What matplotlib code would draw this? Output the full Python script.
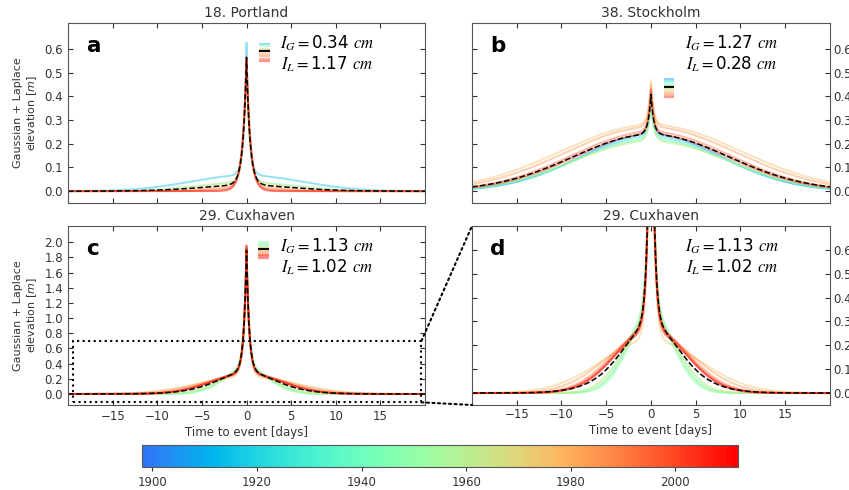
import numpy as np
import matplotlib
matplotlib.use("Agg")
import matplotlib.pyplot as plt
from matplotlib.colors import ListedColormap, Normalize
from matplotlib.cm import ScalarMappable
from matplotlib.patches import Rectangle, ConnectionPatch

plt.rcParams["mathtext.fontset"] = "stix"

# fitted components per event year: gaussian (amp, sigma) + laplace (amp, scale)
portland_years = [1915, 1950, 1968, 1982, 1990, 1998, 2008]
portland_gauss_amp = [0.067, 0.038, 0.035, 0.020, 0.012, 0.004, 0.000]
portland_gauss_sigma = [6.2, 5.5, 5.0, 4.0, 3.5, 3.0, 3.0]
portland_lap_amp = [0.56, 0.50, 0.52, 0.54, 0.55, 0.56, 0.55]
portland_lap_scale = [0.30, 0.35, 0.35, 0.40, 0.40, 0.45, 0.45]

stockholm_years = [1905, 1922, 1940, 1952, 1962, 1975, 1985, 1995, 2005]
stockholm_gauss_amp = [0.24, 0.23, 0.22, 0.215, 0.21, 0.28, 0.27, 0.25, 0.24]
stockholm_gauss_sigma = [7.9, 8.0, 8.3, 8.5, 8.8, 10.0, 9.5, 8.8, 8.5]
stockholm_lap_amp = [0.14, 0.15, 0.16, 0.17, 0.17, 0.19, 0.18, 0.17, 0.19]
stockholm_lap_scale = [0.3, 0.3, 0.3, 0.3, 0.3, 0.3, 0.3, 0.3, 0.3]

cuxhaven_years = [1943, 1947, 1952, 1957, 1962, 1975, 1985, 1992, 1998, 2005, 2010]
cuxhaven_gauss_amp = [0.33, 0.32, 0.33, 0.31, 0.30, 0.22, 0.25, 0.27, 0.27, 0.28, 0.26]
cuxhaven_gauss_sigma = [2.6, 2.5, 2.8, 2.7, 3.0, 5.5, 4.8, 4.2, 4.0, 3.8, 4.0]
cuxhaven_lap_amp = [1.50, 1.55, 1.60, 1.60, 1.55, 1.65, 1.70, 1.60, 1.65, 1.60, 1.70]
cuxhaven_lap_scale = [0.3, 0.3, 0.3, 0.3, 0.3, 0.3, 0.3, 0.3, 0.3, 0.3, 0.3]

portland_stats = ("0.34", "1.17")
stockholm_stats = ("1.27", "0.28")
cuxhaven_stats = ("1.13", "1.02")

year_min, year_max = 1898, 2012
cbar_ticks = [1900, 1920, 1940, 1960, 1980, 2000]
xticks = [-15, -10, -5, 0, 5, 10, 15]

cmap = ListedColormap(plt.get_cmap("rainbow")(np.linspace(0.15, 1.0, 256)))
norm = Normalize(year_min, year_max)
t = np.linspace(-20, 20, 4001)


def curves(ga, gs, la, ls):
    out = []
    for a, s, b, c in zip(ga, gs, la, ls):
        out.append(a * np.exp(-t**2 / (2 * s**2)) + b * np.exp(-np.abs(t) / c))
    return np.array(out)


def panel(ax, years, ys, stats, letter, title, stack=None):
    for yr, y in zip(years, ys):
        ax.plot(t, y, color=cmap(norm(yr)), lw=1.4, alpha=0.45)
    ax.plot(t, ys.mean(axis=0), color="black", ls="--", lw=1.1)
    ax.set_xlim(-20, 20)
    ax.set_xticks(xticks)
    ax.set_title(title, fontsize=10, color="#333333", pad=4)
    ax.text(0.05, 0.93, letter, transform=ax.transAxes, fontsize=15.5,
            fontweight="bold", va="top", ha="left")
    ax.text(0.726, 0.83, "$I_G = $" + stats[0] + " $cm$\n" + "$I_L = $" + stats[1] + " $cm$",
            transform=ax.transAxes, fontsize=12, ha="center", va="center",
            multialignment="center", linespacing=1.1)
    ax.tick_params(direction="in", top=True, right=True, length=3.5,
                   labelsize=8.5, colors="#333333")
    for sp in ax.spines.values():
        sp.set_color("#555555")
    if stack is not None:
        x0, ytop, step = stack
        cols = [cmap(norm(yr)) for yr in years]
        mid = len(cols) // 2
        entries = [(c, 0.45) for c in cols[:mid]] + [("black", 1.0)] + [(c, 0.45) for c in cols[mid:]]
        for i, (c, al) in enumerate(entries):
            yy = ytop - i * step
            ax.plot([x0, x0 + 0.03], [yy, yy], transform=ax.transAxes,
                    color=c, alpha=al, lw=1.6, solid_capstyle="butt")


fig = plt.figure(figsize=(8.49, 4.90), dpi=100)
ax_a = fig.add_axes([0.0801, 0.5857, 0.4205, 0.3673])
ax_b = fig.add_axes([0.5559, 0.5857, 0.4217, 0.3673])
ax_c = fig.add_axes([0.0801, 0.1735, 0.4205, 0.3653])
ax_d = fig.add_axes([0.5559, 0.1735, 0.4217, 0.3653])

ys_p = curves(portland_gauss_amp, portland_gauss_sigma, portland_lap_amp, portland_lap_scale)
ys_s = curves(stockholm_gauss_amp, stockholm_gauss_sigma, stockholm_lap_amp, stockholm_lap_scale)
ys_c = curves(cuxhaven_gauss_amp, cuxhaven_gauss_sigma, cuxhaven_lap_amp, cuxhaven_lap_scale)

panel(ax_a, portland_years, ys_p, portland_stats, "a", "18. Portland", (0.535, 0.885, 0.014))
panel(ax_b, stockholm_years, ys_s, stockholm_stats, "b", "38. Stockholm", (0.535, 0.69, 0.011))
panel(ax_c, cuxhaven_years, ys_c, cuxhaven_stats, "c", "29. Cuxhaven", (0.532, 0.91, 0.008))
panel(ax_d, cuxhaven_years, ys_c, cuxhaven_stats, "d", "29. Cuxhaven")

for ax in (ax_a, ax_b):
    ax.set_ylim(-0.05, 0.71)
    ax.set_yticks(np.arange(0, 0.61, 0.1))
    ax.tick_params(labelbottom=False)
ax_c.set_ylim(-0.145, 2.215)
ax_c.set_yticks(np.arange(0, 2.01, 0.2))
ax_d.set_ylim(-0.05, 0.70)
ax_d.set_yticks(np.arange(0, 0.61, 0.1))
for ax in (ax_b, ax_d):
    ax.tick_params(labelleft=False, labelright=True, pad=2)
for ax in (ax_a, ax_c):
    ax.set_ylabel("Gaussian + Laplace\nelevation [$m$]", fontsize=8,
                  color="#333333", math_fontfamily="dejavusans")
for ax in (ax_c, ax_d):
    ax.set_xlabel("Time to event [days]", fontsize=8.5, color="#333333", labelpad=2)

# zoom box in c linked to d
rx0, rx1, ry0, ry1 = -19.4, 19.6, -0.11, 0.70
ax_c.add_patch(Rectangle((rx0, ry0), rx1 - rx0, ry1 - ry0, fill=False,
                         ls=":", lw=1.5, color="black", zorder=5))
for ry, dy in ((ry1, 1), (ry0, 0)):
    con = ConnectionPatch(xyA=(rx1, ry), coordsA=ax_c.transData,
                          xyB=(0, dy), coordsB=ax_d.transAxes,
                          ls=":", lw=1.5, color="black")
    fig.add_artist(con)

cax = fig.add_axes([0.1673, 0.047, 0.702, 0.045])
cb = fig.colorbar(ScalarMappable(norm=norm, cmap=cmap), cax=cax, orientation="horizontal")
cb.set_ticks(cbar_ticks)
cb.ax.tick_params(labelsize=8.5, colors="#333333", length=3)
cb.outline.set_edgecolor("#555555")

fig.savefig("out.png", dpi=100)
